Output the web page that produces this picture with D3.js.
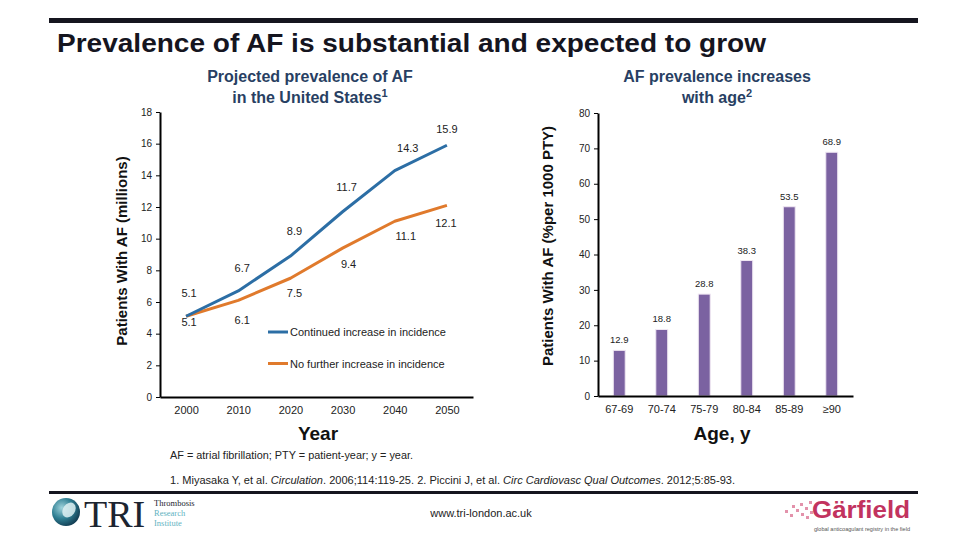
<!DOCTYPE html>
<html>
<head>
<meta charset="utf-8">
<script src="https://cdn.jsdelivr.net/npm/d3@7"></script>
<style>
  html, body { margin: 0; padding: 0; background: #fff; }
  svg { display: block; font-family: "Liberation Sans", Arial, sans-serif; }
</style>
</head>
<body>
<svg id="chart" width="960" height="540"></svg>
<script>
// ---------- data ----------
const years = [2000, 2010, 2020, 2030, 2040, 2050];
const continuedIncrease = [5.1, 6.7, 8.9, 11.7, 14.3, 15.9];
const noFurtherIncrease = [5.1, 6.1, 7.5, 9.4, 11.1, 12.1];
const lineTicks = [0, 2, 4, 6, 8, 10, 12, 14, 16, 18];
const seriesNames = ["Continued increase in incidence", "No further increase in incidence"];

const ageGroups = ["67-69", "70-74", "75-79", "80-84", "85-89", "\u226590"];
const ageRates = [12.9, 18.8, 28.8, 38.3, 53.5, 68.9];
const barTicks = [0, 10, 20, 30, 40, 50, 60, 70, 80];

// ---------- setup ----------
const svg = d3.select("#chart");
const BLUE = "#2c6ea5", ORANGE = "#e07a2c", PURPLE = "#7b62a1", NAVY = "#283f63";

// header
svg.append("rect").attr("x", 49).attr("y", 18).attr("width", 869).attr("height", 5).attr("fill", "#15151f");
svg.append("text").attr("x", 57).attr("y", 52)
  .attr("font-size", 26).attr("font-weight", "bold").attr("fill", "#15151f")
  .attr("textLength", 709).attr("lengthAdjust", "spacingAndGlyphs")
  .text("Prevalence of AF is substantial and expected to grow");

function subtitle(cx, lines, sup) {
  lines.forEach((ln, i) => {
    const t = svg.append("text").attr("x", cx).attr("y", 82 + i * 21)
      .attr("text-anchor", "middle").attr("font-size", 16).attr("font-weight", "bold")
      .attr("fill", NAVY).text(ln);
    if (i === lines.length - 1 && sup) {
      t.append("tspan").attr("font-size", 11).attr("dy", -6).text(sup);
    }
  });
}
subtitle(310, ["Projected prevalence of AF", "in the United States"], "1");
subtitle(717, ["AF prevalence increases", "with age"], "2");

// ---------- left line chart ----------
const xL = d3.scalePoint().domain(years).range([160, 473]).padding(0.5);
const yL = d3.scaleLinear().domain([0, 18]).range([397, 112]);

const gLy = svg.append("g").attr("transform", "translate(160,0)")
  .call(d3.axisLeft(yL).tickValues(lineTicks).tickSize(4).tickSizeOuter(0));
gLy.select(".domain").attr("stroke", "#000").attr("stroke-width", 2);
gLy.selectAll(".tick line").attr("stroke", "#000");
gLy.selectAll(".tick text").attr("font-size", 10).attr("fill", "#222")
  .attr("font-family", "Liberation Sans, Arial, sans-serif").attr("x", -8);

const gLx = svg.append("g").attr("transform", "translate(0,397)")
  .call(d3.axisBottom(xL).tickSize(0).tickSizeOuter(0).tickPadding(9));
gLx.select(".domain").attr("stroke", "#000").attr("stroke-width", 2);
gLx.selectAll(".tick text").attr("font-size", 11).attr("fill", "#222")
  .attr("font-family", "Liberation Sans, Arial, sans-serif");

const lineGen = d3.line().x((d, i) => xL(years[i])).y(d => yL(d)).curve(d3.curveLinear);
svg.append("path").datum(noFurtherIncrease).attr("d", lineGen)
  .attr("fill", "none").attr("stroke", ORANGE).attr("stroke-width", 3).attr("stroke-linejoin", "round");
svg.append("path").datum(continuedIncrease).attr("d", lineGen)
  .attr("fill", "none").attr("stroke", BLUE).attr("stroke-width", 3).attr("stroke-linejoin", "round");

// data labels
const blueNudge = [[3, -19], [4, -19], [4, -21], [4, -21], [13, -19], [0, -12]];
const orangeNudge = [[3, 10], [4, 24], [4, 19], [6, 20], [11, 19], [-1, 22]];
svg.append("g").selectAll("text").data(continuedIncrease).join("text")
  .attr("x", (d, i) => xL(years[i]) + blueNudge[i][0])
  .attr("y", (d, i) => yL(d) + blueNudge[i][1])
  .attr("text-anchor", "middle").attr("font-size", 11).attr("fill", "#222")
  .text(d => d.toFixed(1));
svg.append("g").selectAll("text").data(noFurtherIncrease).join("text")
  .attr("x", (d, i) => xL(years[i]) + orangeNudge[i][0])
  .attr("y", (d, i) => yL(d) + orangeNudge[i][1])
  .attr("text-anchor", "middle").attr("font-size", 11).attr("fill", "#222")
  .text(d => d.toFixed(1));

// legend
[BLUE, ORANGE].forEach((c, i) => {
  const ly = 332 + i * 31.5;
  svg.append("line").attr("x1", 268).attr("x2", 288).attr("y1", ly).attr("y2", ly)
    .attr("stroke", c).attr("stroke-width", 3);
  svg.append("text").attr("x", 290).attr("y", ly + 4).attr("font-size", 11).attr("fill", "#222")
    .text(seriesNames[i]);
});

svg.append("text").attr("x", 318).attr("y", 440).attr("text-anchor", "middle")
  .attr("font-size", 19).attr("font-weight", "bold").attr("fill", "#111").text("Year");
svg.append("text").attr("transform", "translate(127,251) rotate(-90)").attr("text-anchor", "middle")
  .attr("font-size", 15).attr("font-weight", "bold").attr("fill", "#111").text("Patients With AF (millions)");

// ---------- right bar chart ----------
const xR = d3.scaleBand().domain(ageGroups).range([598, 853]).paddingInner(0.72).paddingOuter(0.36);
const yR = d3.scaleLinear().domain([0, 80]).range([396, 113]);

svg.append("g").selectAll("rect").data(ageRates).join("rect")
  .attr("x", (d, i) => xR(ageGroups[i]))
  .attr("y", d => yR(d))
  .attr("width", xR.bandwidth())
  .attr("height", d => yR(0) - yR(d))
  .attr("fill", PURPLE).attr("stroke", "#efe6f2").attr("stroke-width", 1);

svg.append("g").selectAll("text").data(ageRates).join("text")
  .attr("x", (d, i) => xR(ageGroups[i]) + xR.bandwidth() / 2)
  .attr("y", d => yR(d) - 7)
  .attr("text-anchor", "middle").attr("font-size", 9.5).attr("fill", "#222")
  .text(d => d.toFixed(1));

const gRy = svg.append("g").attr("transform", "translate(598,0)")
  .call(d3.axisLeft(yR).tickValues(barTicks).tickSize(4).tickSizeOuter(0));
gRy.select(".domain").attr("stroke", "#000").attr("stroke-width", 2);
gRy.selectAll(".tick line").attr("stroke", "#000");
gRy.selectAll(".tick text").attr("font-size", 10).attr("fill", "#222")
  .attr("font-family", "Liberation Sans, Arial, sans-serif").attr("x", -8);

const gRx = svg.append("g").attr("transform", "translate(0,396)")
  .call(d3.axisBottom(xR).tickSize(0).tickSizeOuter(0).tickPadding(9));
gRx.select(".domain").attr("stroke", "#000").attr("stroke-width", 2);
gRx.selectAll(".tick text").attr("font-size", 11).attr("fill", "#222")
  .attr("font-family", "Liberation Sans, Arial, sans-serif");

svg.append("text").attr("x", 722).attr("y", 440).attr("text-anchor", "middle")
  .attr("font-size", 19).attr("font-weight", "bold").attr("fill", "#111").text("Age, y");
svg.append("text").attr("transform", "translate(553,246) rotate(-90)").attr("text-anchor", "middle")
  .attr("font-size", 15).attr("font-weight", "bold").attr("fill", "#111").text("Patients With AF (%per 1000 PTY)");

// ---------- footnotes ----------
svg.append("text").attr("x", 170).attr("y", 459).attr("font-size", 10).attr("fill", "#222")
  .attr("textLength", 243).attr("lengthAdjust", "spacingAndGlyphs")
  .text("AF = atrial fibrillation; PTY = patient-year; y = year.");
const ref = svg.append("text").attr("x", 170).attr("y", 484).attr("font-size", 10.5).attr("fill", "#222")
  .attr("textLength", 565).attr("lengthAdjust", "spacingAndGlyphs");
ref.append("tspan").text("1. Miyasaka Y, et al. ");
ref.append("tspan").attr("font-style", "italic").text("Circulation");
ref.append("tspan").text(". 2006;114:119-25. 2. Piccini J, et al. ");
ref.append("tspan").attr("font-style", "italic").text("Circ Cardiovasc Qual Outcomes");
ref.append("tspan").text(". 2012;5:85-93.");

svg.append("rect").attr("x", 49).attr("y", 491).attr("width", 869).attr("height", 3).attr("fill", "#15151f");

svg.append("text").attr("x", 481).attr("y", 517).attr("text-anchor", "middle")
  .attr("font-size", 11).attr("fill", "#222").text("www.tri-london.ac.uk");

// TRI logo
const defs = svg.append("defs");
const rg = defs.append("radialGradient").attr("id", "triG").attr("cx", "35%").attr("cy", "35%").attr("r", "70%");
rg.append("stop").attr("offset", "0%").attr("stop-color", "#9fd3dc");
rg.append("stop").attr("offset", "55%").attr("stop-color", "#2f7f93");
rg.append("stop").attr("offset", "100%").attr("stop-color", "#123c52");
svg.append("circle").attr("cx", 66).attr("cy", 512).attr("r", 14).attr("fill", "url(#triG)");
svg.append("ellipse").attr("cx", 69).attr("cy", 510).attr("rx", 6).attr("ry", 8)
  .attr("transform", "rotate(35,69,510)").attr("fill", "#dff1f3").attr("opacity", 0.85);
svg.append("text").attr("x", 84).attr("y", 527).attr("font-family", "Liberation Serif, serif")
  .attr("font-size", 38).attr("fill", "#1c2430").text("TRI");
svg.append("text").attr("x", 154).attr("y", 506).attr("font-family", "Liberation Serif, serif")
  .attr("font-size", 8.5).attr("fill", "#1c2430").text("Thrombosis");
svg.append("text").attr("x", 154).attr("y", 516).attr("font-family", "Liberation Serif, serif")
  .attr("font-size", 8.5).attr("fill", "#5fb3bf").text("Research");
svg.append("text").attr("x", 154).attr("y", 526).attr("font-family", "Liberation Serif, serif")
  .attr("font-size", 8.5).attr("fill", "#5fb3bf").text("Institute");

// GARFIELD logo
const pix = [[792,505],[796,509],[800,503],[801,513],[805,507],[806,516],[809,501],[810,511],[785,510],[790,514]];
svg.append("g").selectAll("rect").data(pix).join("rect")
  .attr("x", d => d[0]).attr("y", d => d[1]).attr("width", 3).attr("height", 3)
  .attr("fill", "#d04a73").attr("opacity", 0.6);
svg.append("text").attr("x", 812).attr("y", 518).attr("font-size", 23).attr("font-weight", "bold")
  .attr("fill", "#c2335f").attr("textLength", 98).attr("lengthAdjust", "spacingAndGlyphs").text("G\u00e4rfield");
svg.append("text").attr("x", 814).attr("y", 531).attr("font-size", 5).attr("fill", "#555")
  .attr("textLength", 96).attr("lengthAdjust", "spacingAndGlyphs").text("global anticoagulant registry in the field");
</script>
</body>
</html>
